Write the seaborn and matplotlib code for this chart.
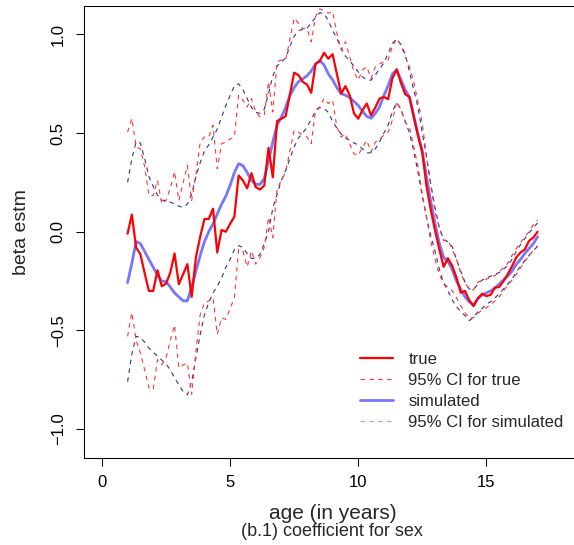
import numpy as np
import matplotlib
matplotlib.use("Agg")
import matplotlib.pyplot as plt
from matplotlib.lines import Line2D
import seaborn as sns

sns.set_style("ticks")
plt.rcParams['font.family'] = ['Liberation Sans', 'DejaVu Sans']

# ages on a two-month grid, 1 to 17 years
age = np.linspace(1, 17, 97)

true_est = [
    -0.01, 0.087, -0.08, -0.114, -0.21, -0.30, -0.30, -0.195, -0.276, -0.263,
    -0.207, -0.11, -0.266, -0.215, -0.164, -0.33, -0.13, -0.025, 0.065, 0.065,
    0.117, -0.105, 0.009, 0.0, 0.04, 0.076, 0.285, 0.26, 0.22, 0.297,
    0.226, 0.214, 0.234, 0.426, 0.276, 0.561, 0.573, 0.585, 0.695, 0.806,
    0.794, 0.76, 0.746, 0.704, 0.85, 0.865, 0.907, 0.877, 0.90, 0.80,
    0.70, 0.738, 0.692, 0.60, 0.573, 0.616, 0.65, 0.59, 0.63, 0.675,
    0.683, 0.672, 0.777, 0.823, 0.755, 0.697, 0.683, 0.58, 0.489, 0.40,
    0.23, 0.11, 0.005, -0.09, -0.178, -0.134, -0.173, -0.232, -0.309, -0.30,
    -0.348, -0.377, -0.337, -0.314, -0.326, -0.32, -0.283, -0.28, -0.25, -0.215,
    -0.175, -0.13, -0.105, -0.09, -0.046, -0.029, 0.0]

true_upper = [
    0.505, 0.574, 0.43, 0.42, 0.33, 0.183, 0.183, 0.26, 0.141, 0.158,
    0.22, 0.305, 0.158, 0.247, 0.336, 0.158, 0.285, 0.454, 0.48, 0.48,
    0.54, 0.319, 0.446, 0.454, 0.47, 0.48, 0.692, 0.667, 0.633, 0.675,
    0.607, 0.582, 0.59, 0.76, 0.607, 0.862, 0.87, 0.87, 0.975, 1.082,
    1.057, 1.03, 1.03, 0.963, 1.09, 1.13, 1.12, 1.108, 1.116, 1.006,
    0.92, 0.963, 0.887, 0.81, 0.768, 0.82, 0.836, 0.777, 0.836, 0.85,
    0.862, 0.87, 0.938, 0.98, 0.946, 0.887, 0.836, 0.76, 0.658, 0.55,
    0.38, 0.23, 0.10, 0.02, -0.045, -0.045, -0.088, -0.14, -0.21, -0.26,
    -0.29, -0.295, -0.255, -0.248, -0.24, -0.232, -0.222, -0.205, -0.18, -0.16,
    -0.12, -0.085, -0.055, -0.025, 0.0, 0.035, 0.06]

true_lower = [
    -0.53, -0.41, -0.55, -0.614, -0.70, -0.792, -0.80, -0.648, -0.673, -0.64,
    -0.55, -0.473, -0.69, -0.675, -0.665, -0.823, -0.606, -0.419, -0.36, -0.351,
    -0.334, -0.52, -0.436, -0.444, -0.39, -0.334, -0.09, -0.097, -0.178, -0.097,
    -0.164, -0.131, -0.08, 0.073, -0.029, 0.217, 0.26, 0.302, 0.41, 0.514,
    0.505, 0.49, 0.48, 0.446, 0.616, 0.633, 0.675, 0.65, 0.667, 0.53,
    0.48, 0.497, 0.446, 0.395, 0.387, 0.429, 0.463, 0.404, 0.454, 0.47,
    0.489, 0.505, 0.565, 0.658, 0.62, 0.556, 0.53, 0.43, 0.33, 0.19,
    0.073, -0.05, -0.14, -0.22, -0.26, -0.283, -0.30, -0.334, -0.375, -0.41,
    -0.44, -0.435, -0.415, -0.395, -0.385, -0.37, -0.351, -0.33, -0.30, -0.27,
    -0.245, -0.215, -0.183, -0.15, -0.122, -0.095, -0.07]

sim_est = [
    -0.258, -0.16, -0.05, -0.06, -0.10, -0.14, -0.18, -0.22, -0.25, -0.253,
    -0.28, -0.31, -0.33, -0.35, -0.35, -0.28, -0.20, -0.12, -0.05, 0.0,
    0.04, 0.09, 0.14, 0.18, 0.235, 0.30, 0.345, 0.335, 0.30, 0.26,
    0.24, 0.24, 0.27, 0.36, 0.455, 0.54, 0.58, 0.63, 0.69, 0.73,
    0.76, 0.775, 0.79, 0.815, 0.85, 0.867, 0.845, 0.80, 0.77, 0.73,
    0.70, 0.692, 0.68, 0.66, 0.64, 0.61, 0.585, 0.575, 0.60, 0.633,
    0.69, 0.74, 0.80, 0.82, 0.77, 0.72, 0.68, 0.59, 0.49, 0.41,
    0.276, 0.15, 0.04, -0.06, -0.13, -0.15, -0.19, -0.25, -0.29, -0.33,
    -0.355, -0.37, -0.34, -0.32, -0.31, -0.30, -0.285, -0.265, -0.245, -0.225,
    -0.20, -0.165, -0.14, -0.11, -0.085, -0.06, -0.025]

sim_upper = [
    0.25, 0.37, 0.455, 0.45, 0.37, 0.28, 0.23, 0.185, 0.16, 0.158,
    0.15, 0.141, 0.13, 0.123, 0.14, 0.19, 0.28, 0.35, 0.41, 0.44,
    0.48, 0.52, 0.58, 0.64, 0.69, 0.74, 0.75, 0.72, 0.675, 0.63,
    0.605, 0.60, 0.62, 0.70, 0.79, 0.84, 0.86, 0.88, 0.94, 0.99,
    1.02, 1.025, 1.03, 1.06, 1.085, 1.11, 1.105, 1.07, 1.02, 0.98,
    0.93, 0.89, 0.865, 0.84, 0.81, 0.785, 0.77, 0.768, 0.795, 0.825,
    0.855, 0.905, 0.955, 0.975, 0.95, 0.90, 0.81, 0.72, 0.63, 0.50,
    0.38, 0.24, 0.12, 0.02, -0.04, -0.05, -0.075, -0.14, -0.20, -0.255,
    -0.29, -0.292, -0.265, -0.245, -0.235, -0.225, -0.215, -0.207, -0.19, -0.17,
    -0.14, -0.10, -0.065, -0.035, -0.005, 0.02, 0.045]

sim_lower = [
    -0.76, -0.62, -0.53, -0.535, -0.56, -0.59, -0.61, -0.63, -0.65, -0.67,
    -0.70, -0.74, -0.775, -0.81, -0.826, -0.76, -0.64, -0.52, -0.42, -0.36,
    -0.31, -0.275, -0.235, -0.18, -0.14, -0.09, -0.07, -0.08, -0.11, -0.135,
    -0.135, -0.115, -0.06, 0.0, 0.12, 0.19, 0.26, 0.31, 0.37, 0.43,
    0.475, 0.50, 0.53, 0.57, 0.61, 0.63, 0.625, 0.605, 0.56, 0.525,
    0.495, 0.475, 0.463, 0.45, 0.44, 0.42, 0.40, 0.40, 0.42, 0.455,
    0.50, 0.54, 0.61, 0.655, 0.62, 0.56, 0.50, 0.41, 0.30, 0.18,
    0.07, -0.02, -0.10, -0.19, -0.26, -0.30, -0.345, -0.38, -0.405, -0.425,
    -0.45, -0.435, -0.405, -0.39, -0.365, -0.355, -0.335, -0.315, -0.29, -0.265,
    -0.24, -0.205, -0.175, -0.145, -0.12, -0.095, -0.075]

legend_labels = ["true", "95% CI for true", "simulated", "95% CI for simulated"]

red = "#ff0000"
red_ci = "#ff3434"
blue = "#7676ff"
blue_ci = "#3b2c99"
dash = (0, (4, 4))

fig = plt.figure(figsize=(5.74, 5.45), dpi=100)
ax = fig.add_axes([83.5 / 574, 87.5 / 545, 498.2 / 574, 451.5 / 545])

sns.lineplot(x=age, y=sim_est, ax=ax, color=blue, lw=2.0)
sns.lineplot(x=age, y=sim_upper, ax=ax, color=blue_ci, lw=0.8, linestyle=dash)
sns.lineplot(x=age, y=sim_lower, ax=ax, color=blue_ci, lw=0.8, linestyle=dash)
sns.lineplot(x=age, y=true_upper, ax=ax, color=red_ci, lw=0.8, linestyle=dash)
sns.lineplot(x=age, y=true_lower, ax=ax, color=red_ci, lw=0.8, linestyle=dash)
sns.lineplot(x=age, y=true_est, ax=ax, color=red, lw=1.6)

ax.set_xlim(-0.72, 18.72)
ax.set_ylim(-1.144, 1.144)
ax.set_xticks([0, 5, 10, 15])
ax.set_yticks([-1.0, -0.5, 0.0, 0.5, 1.0])
ax.tick_params(length=5.8, width=0.75, labelsize=12, pad=7, color="black", labelcolor="black")
for lab in ax.get_yticklabels():
    lab.set_rotation(90)
    lab.set_va("center")
for sp in ax.spines.values():
    sp.set_color("black")
    sp.set_linewidth(0.75)

ax.set_xlabel("age (in years)", fontsize=15, labelpad=10)
ax.set_ylabel("beta estm", fontsize=14, labelpad=15)
fig.text(332 / 574, 1 - 531 / 545, "(b.1) coefficient for sex", fontsize=13,
         ha="center", va="center")

handles = [
    Line2D([], [], color=red, lw=1.6),
    Line2D([], [], color=red_ci, lw=0.8, linestyle=dash),
    Line2D([], [], color=blue, lw=2.0),
    Line2D([], [], color="#9a9aff", lw=0.8, linestyle=dash),
]
ax.legend(handles, legend_labels, loc="upper left",
          bbox_to_anchor=(360 / 574, 1 - 352 / 545), bbox_transform=fig.transFigure,
          frameon=False, fontsize=12, handlelength=2.0, handletextpad=0.9,
          labelspacing=0.36, borderpad=0, borderaxespad=0)

fig.savefig("out.png", dpi=100)
